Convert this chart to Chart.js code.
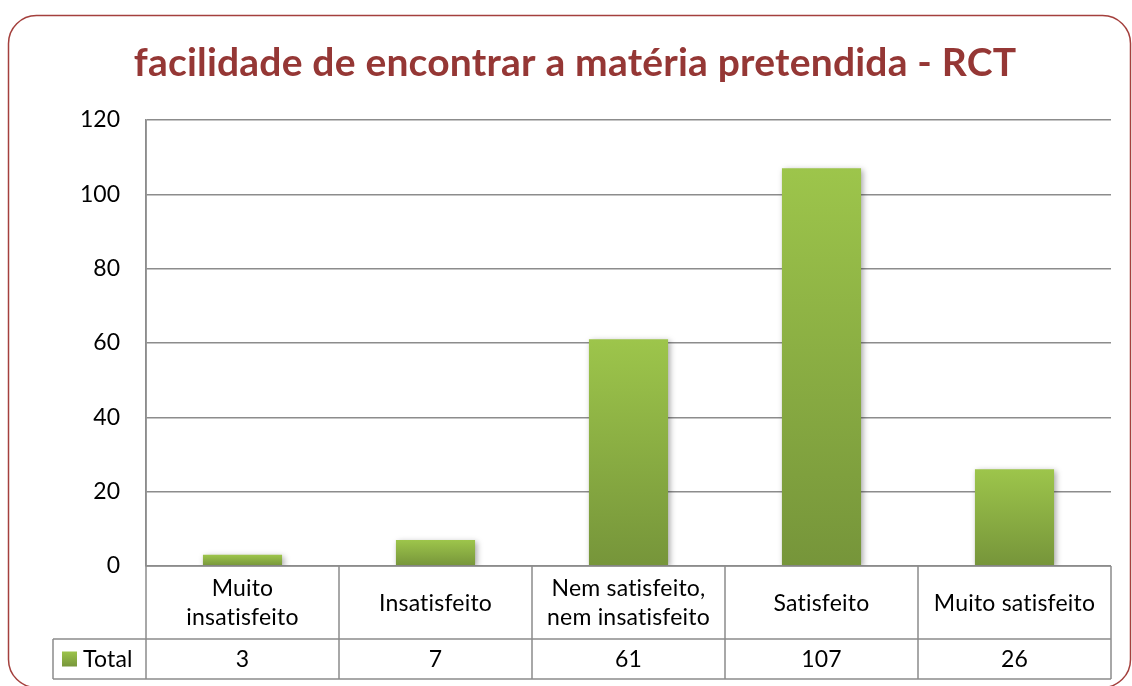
<!DOCTYPE html>
<html>
<head>
<meta charset="utf-8">
<script src="https://cdn.jsdelivr.net/npm/chart.js@4.4.1/dist/chart.umd.min.js"></script>
<style>
  html, body { margin: 0; padding: 0; background: #ffffff; }
  canvas { display: block; }
</style>
</head>
<body>
<canvas id="c" width="1132" height="686"></canvas>
<script>
// ---- data ----
const chartTitle = 'facilidade de encontrar a matéria pretendida - RCT';
const categories = [
  ['Muito', 'insatisfeito'],
  ['Insatisfeito'],
  ['Nem satisfeito,', 'nem insatisfeito'],
  ['Satisfeito'],
  ['Muito satisfeito']
];
const seriesName = 'Total';
const totals = [3, 7, 61, 107, 26];
const yTicks = [0, 20, 40, 60, 80, 100, 120];

const FONT = 'Lato, "Open Sans", sans-serif';
const GRID = '#8c8c8c';
const TITLE_RED = '#953735';
const GREEN_TOP = '#9dc54b';
const GREEN_BOT = '#76953a';

function noLig(ctx) { if ('letterSpacing' in ctx) ctx.letterSpacing = '0.2px'; }

// frame + title
const framePlugin = {
  id: 'frame',
  beforeDraw(chart) {
    const ctx = chart.ctx;
    ctx.save();
    ctx.fillStyle = '#ffffff';
    ctx.fillRect(0, 0, chart.width, chart.height);
    ctx.strokeStyle = '#a4403d';
    ctx.lineWidth = 1.5;
    ctx.beginPath();
    ctx.roundRect(8.5, 15.5, 1122, 672, 28);
    ctx.stroke();
    ctx.fillStyle = TITLE_RED;
    ctx.font = 'bold 39px ' + FONT;
    noLig(ctx);
    ctx.textAlign = 'center';
    ctx.textBaseline = 'middle';
    ctx.fillText(chartTitle, 575, 63);
    ctx.restore();
  }
};

// bar shadow
const shadowPlugin = {
  id: 'barShadow',
  beforeDatasetsDraw(chart) {
    const ctx = chart.ctx;
    ctx.save();
    ctx.shadowColor = 'rgba(0,0,0,0.35)';
    ctx.shadowBlur = 6;
    ctx.shadowOffsetX = 2;
    ctx.shadowOffsetY = 2;
  },
  afterDatasetsDraw(chart) {
    chart.ctx.restore();
  }
};

// data table under the plot
const tablePlugin = {
  id: 'dataTable',
  afterDraw(chart) {
    const ctx = chart.ctx;
    const x = chart.scales.x;
    const y = chart.scales.y;
    const area = chart.chartArea;
    const y0 = y.getPixelForValue(0);
    const rowSplit = y0 + 73;
    const rowBottom = y0 + 113;
    const legendLeft = 53;
    const n = categories.length;
    const bounds = [];
    for (let i = 0; i <= n; i++) bounds.push(x.getPixelForValue(i - 0.5));
    ctx.save();
    ctx.strokeStyle = GRID;
    ctx.lineWidth = 1.5;
    ctx.beginPath();
    ctx.moveTo(bounds[0], y0); ctx.lineTo(bounds[n], y0);
    ctx.moveTo(legendLeft, rowSplit); ctx.lineTo(bounds[n], rowSplit);
    ctx.moveTo(legendLeft, rowBottom); ctx.lineTo(bounds[n], rowBottom);
    ctx.moveTo(bounds[0], area.top); ctx.lineTo(bounds[0], rowBottom);
    for (let i = 1; i <= n; i++) {
      ctx.moveTo(bounds[i], y0); ctx.lineTo(bounds[i], rowBottom);
    }
    ctx.moveTo(legendLeft, rowSplit); ctx.lineTo(legendLeft, rowBottom);
    ctx.stroke();

    ctx.fillStyle = '#000000';
    ctx.font = '23px ' + FONT;
    noLig(ctx);
    ctx.textAlign = 'center';
    ctx.textBaseline = 'middle';
    const lineH = 29;
    for (let i = 0; i < n; i++) {
      const cx = (bounds[i] + bounds[i + 1]) / 2;
      const lines = categories[i];
      const cy = (y0 + rowSplit) / 2 + 1;
      lines.forEach((t, k) => {
        ctx.fillText(t, cx, cy + (k - (lines.length - 1) / 2) * lineH);
      });
      ctx.fillText(String(totals[i]), cx, (rowSplit + rowBottom) / 2 + 1);
    }
    const ky = (rowSplit + rowBottom) / 2;
    const g = ctx.createLinearGradient(0, ky - 8, 0, ky + 8);
    g.addColorStop(0, GREEN_TOP); g.addColorStop(1, GREEN_BOT);
    ctx.fillStyle = g;
    ctx.fillRect(62, ky - 7.5, 15, 15);
    ctx.fillStyle = '#000000';
    ctx.textAlign = 'left';
    ctx.fillText(seriesName, 83, ky + 1);
    ctx.restore();
  }
};

function barGradient(context) {
  const chart = context.chart;
  const area = chart.chartArea;
  if (!area || !chart.scales.y) return GREEN_TOP;
  const v = context.raw;
  const yTop = chart.scales.y.getPixelForValue(v);
  const yBase = chart.scales.y.getPixelForValue(0);
  const g = chart.ctx.createLinearGradient(0, yTop, 0, yBase);
  g.addColorStop(0, GREEN_TOP);
  g.addColorStop(1, GREEN_BOT);
  return g;
}

function start() {
  new Chart(document.getElementById('c'), {
    type: 'bar',
    data: {
      labels: categories,
      datasets: [{
        label: seriesName,
        data: totals,
        backgroundColor: barGradient,
        borderWidth: 0,
        categoryPercentage: 1.0,
        barPercentage: 0.41
      }]
    },
    options: {
      responsive: false,
      devicePixelRatio: 1,
      animation: false,
      layout: { padding: { top: 120, bottom: 120, right: 21, left: 0 } },
      plugins: {
        legend: { display: false },
        title: { display: false },
        tooltip: { enabled: false }
      },
      scales: {
        x: {
          display: false,
          offset: true
        },
        y: {
          min: yTicks[0],
          max: yTicks[yTicks.length - 1],
          afterBuildTicks(scale) {
            scale.ticks = yTicks.map(v => ({ value: v }));
          },
          afterFit(scale) { scale.width = 146; },
          grid: {
            color: GRID,
            lineWidth: 1.5,
            drawTicks: false
          },
          border: { display: true, color: GRID, width: 1.5 },
          ticks: {
            color: '#000000',
            font: { family: FONT, size: 23 },
            padding: 26
          }
        }
      }
    },
    plugins: [framePlugin, shadowPlugin, tablePlugin]
  });
}

if (document.fonts && document.fonts.load) {
  Promise.all([
    document.fonts.load('23px Lato'),
    document.fonts.load('bold 39px Lato')
  ]).then(start, start);
} else {
  start();
}
</script>
</body>
</html>
